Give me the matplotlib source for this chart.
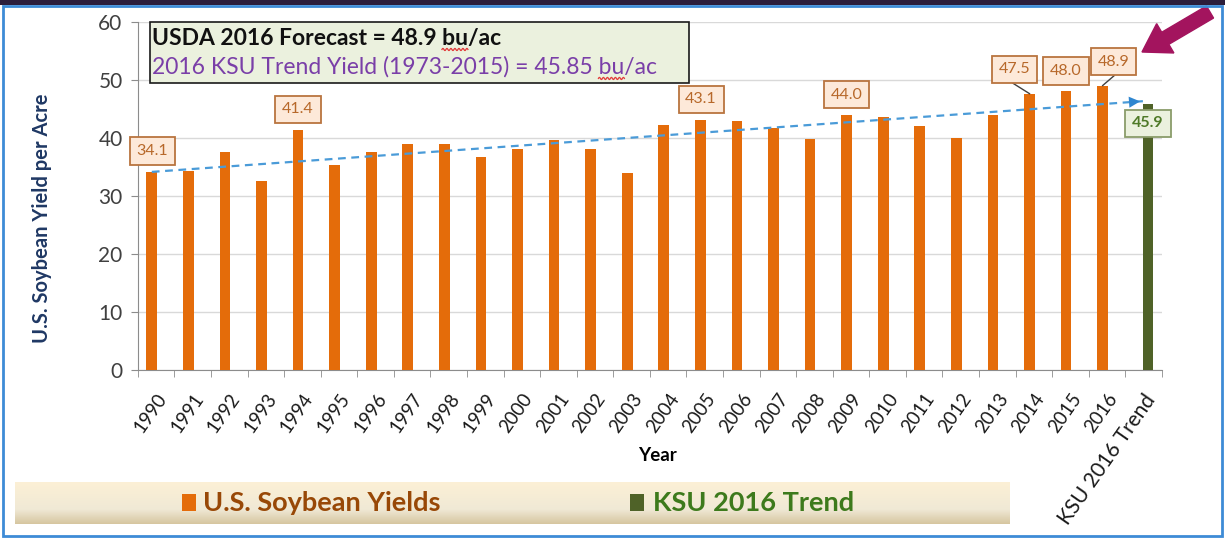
import matplotlib
matplotlib.use('Agg')
import matplotlib.pyplot as plt
import matplotlib.transforms as mtransforms
import numpy as np
from matplotlib.patches import Rectangle, FancyArrow
from matplotlib.lines import Line2D

years = [str(y) for y in range(1990, 2017)]
yields = [34.1, 34.2, 37.6, 32.6, 41.4, 35.3, 37.6, 38.9, 38.9, 36.6,
          38.1, 39.6, 38.0, 33.9, 42.2, 43.1, 42.9, 41.7, 39.7, 44.0,
          43.5, 42.0, 40.0, 44.0, 47.5, 48.0, 48.9]
trend_category = 'KSU 2016 Trend'
trend_yield = 45.85
trend_line = [34.1, 46.3]          # dashed trend arrow, start / end value
labeled = ['1990', '1994', '2005', '2009', '2014', '2015', '2016']
usda_forecast = 48.9

ORANGE = '#E46C0A'
GREEN = '#4F6228'
plt.rcParams['font.family'] = ['Lato', 'DejaVu Sans']

fig = plt.figure(figsize=(12.25, 5.39), dpi=100)
ax = fig.add_axes([137.9 / 1225, 169.5 / 539, 1024 / 1225, 347.7 / 539])

n = len(years)
x = np.arange(n)
off, bw = 0.12, 0.29
ax.bar(x - off, yields, width=bw, color=ORANGE, zorder=3)
ax.bar(n + off, trend_yield, width=bw, color=GREEN, zorder=3)

ax.set_xlim(-0.5, n + 0.5)
ax.set_ylim(0, 60)
ax.set_yticks(range(0, 61, 10))
ax.grid(axis='y', color='#D9D9D9', lw=1, zorder=0)
for s in ['top', 'right']:
    ax.spines[s].set_visible(False)
for s in ['left', 'bottom']:
    ax.spines[s].set_color('#8C8C8C')
ax.tick_params(axis='y', length=5, color='#8C8C8C', labelsize=15,
               labelcolor='#404040', pad=6)

ax.set_xticks(np.arange(n + 1))
ax.set_xticklabels(years + [trend_category], rotation=55, ha='right',
                   va='top', rotation_mode='anchor', fontsize=13.5,
                   color='#1A1A1A')
ax.get_xticklabels()[-1].set_fontsize(15)
ax.tick_params(axis='x', length=0, pad=15)
ax.set_xticks(np.arange(-0.5, n + 1, 1), minor=True)
ax.tick_params(axis='x', which='minor', length=5, color='#8C8C8C')

ax.set_xlabel('Year', fontsize=13.5, fontweight='bold')
ax.xaxis.set_label_coords(520 / 1024, -77.5 / 347.7)
ax.set_ylabel('U.S. Soybean Yield per Acre', fontsize=14.5,
              fontweight='bold', color='#1F3864')
ax.yaxis.set_label_coords(-86 / 1024, 0.436)

# dashed trend line with arrow head
ax.plot([-off, n - 0.02], trend_line, ls=(0, (3.5, 2.5)), color='#4A9BD8',
        lw=1.6, zorder=4)
ax.annotate('', xy=(n - 0.02, trend_line[1]),
            xytext=(n - 0.5, trend_line[1] - 0.22),
            arrowprops=dict(arrowstyle='-|>', color='#2F86D0', lw=0,
                            mutation_scale=20), zorder=4)

# value call-outs (centre offsets from bar top)
callout = {'1990': (0.01, 3.6), '1994': (0.0, 3.5), '2005': (0.02, 3.5),
           '2009': (0.0, 3.45), '2014': (-0.42, 4.3), '2015': (0.0, 3.5),
           '2016': (0.29, 4.2)}
for yr in labeled:
    i = years.index(yr)
    v = yields[i]
    dx, dy = callout[yr]
    bx, by = i - off + dx, v + dy
    if yr in ('2014', '2016'):
        ax.plot([bx + dx * 0.08, i - off], [by - 2.4, v + 0.1],
                color='#404040', lw=1, zorder=5)
    ax.text(bx, by, f'{v:.1f}', ha='center', va='center', fontsize=11.5,
            color='#B7682A', zorder=6,
            bbox=dict(boxstyle='square,pad=0.42', fc='#FDE9D9',
                      ec='#B9743F', lw=1.3))
ax.text(n + off, trend_yield - 3.35, f'{round(trend_yield, 1):.1f}',
        ha='center', va='center', fontsize=11.5, fontweight='bold',
        color='#4F7A28', zorder=6,
        bbox=dict(boxstyle='square,pad=0.42', fc='#EBF1DE', ec='#8A9C6A',
                  lw=1.3))

# forecast note
ax.add_patch(Rectangle((-0.17, 49.4), 14.74, 10.6, fc='#EBF1DE', ec='#1A1A1A',
                       lw=1.2, zorder=7, clip_on=False))
note_kw = dict(fontsize=16.5, va='baseline', zorder=8)
line1 = ('USDA 2016 Forecast = ', f'{usda_forecast} ')
line2 = ('2016 KSU Trend Yield (1973-2015) = ', f'{trend_yield} ')
t1 = ax.text(-0.12, 56.0, ''.join(line1) + 'bu/ac', fontweight='bold',
             color='#111111', **note_kw)
t2 = ax.text(-0.12, 51.0, ''.join(line2) + 'bu/ac', color='#7A3FA8',
             **note_kw)

# red spell-check squiggles under "bu"
fig.canvas.draw()
rend = fig.canvas.get_renderer()
for t, pre, weight in [(t1, ''.join(line1), 'bold'),
                       (t2, ''.join(line2), 'normal')]:
    probe = ax.text(-0.12, t.get_position()[1], pre, fontweight=weight,
                    **note_kw)
    pw = probe.get_window_extent(rend)
    bu = ax.text(-0.12, t.get_position()[1], pre + 'bu', fontweight=weight,
                 **note_kw)
    bw_ = bu.get_window_extent(rend)
    probe.remove()
    bu.remove()
    base_y = ax.transData.transform((0, t.get_position()[1]))[1]
    xs = np.arange(pw.x1, bw_.x1 + 0.5, 0.5)
    ys = base_y - 4.5 + 1.1 * np.sin((xs - xs[0]) * np.pi / 2)
    fig.add_artist(Line2D(xs, ys, color='#E23B3B', lw=0.9,
                          transform=mtransforms.IdentityTransform(),
                          zorder=9))

# legend band with soft gradient
lax = fig.add_axes([15 / 1225, 15 / 539, 995 / 1225, 42 / 539])
top = np.array([252, 240, 213]) / 255
mid = np.array([240, 233, 214]) / 255
bot = np.array([214, 198, 160]) / 255
rows = []
for k in np.linspace(0, 1, 60):
    if k < 0.65:
        c = top + (mid - top) * k / 0.65
    else:
        c = mid + (bot - mid) * (k - 0.65) / 0.35
    rows.append(c)
lax.imshow(np.array(rows)[:, None, :], aspect='auto', extent=(0, 1, 0, 1))
lax.set_axis_off()
fig.patches.append(Rectangle((182 / 1225, 28 / 539), 14 / 1225, 17 / 539,
                             fc=ORANGE, transform=fig.transFigure, figure=fig))
fig.text(203 / 1225, 36 / 539, 'U.S. Soybean Yields', fontsize=19.5,
         fontweight='bold', color='#984807', va='center')
fig.patches.append(Rectangle((630 / 1225, 28 / 539), 14 / 1225, 17 / 539,
                             fc=GREEN, transform=fig.transFigure, figure=fig))
fig.text(653 / 1225, 36 / 539, 'KSU 2016 Trend', fontsize=19.5,
         fontweight='bold', color='#3D7A1C', va='center')

# highlight arrow pointing at the 2016 forecast
fig.add_artist(FancyArrow(12.10, 5.27, -0.68, -0.40, width=0.14,
                          head_width=0.34, head_length=0.27,
                          length_includes_head=True, color='#A3145E',
                          transform=fig.dpi_scale_trans))

# outer frame
fig.patches.append(Rectangle((3 / 1225, 3 / 539), 1219 / 1225, 530 / 539,
                             fill=False, ec='#3D8BD6', lw=2,
                             transform=fig.transFigure, figure=fig))
fig.patches.append(Rectangle((0, 534 / 539), 1, 5 / 539, fc='#2B1D3B',
                             transform=fig.transFigure, figure=fig))

fig.savefig('out.png', dpi=100)
